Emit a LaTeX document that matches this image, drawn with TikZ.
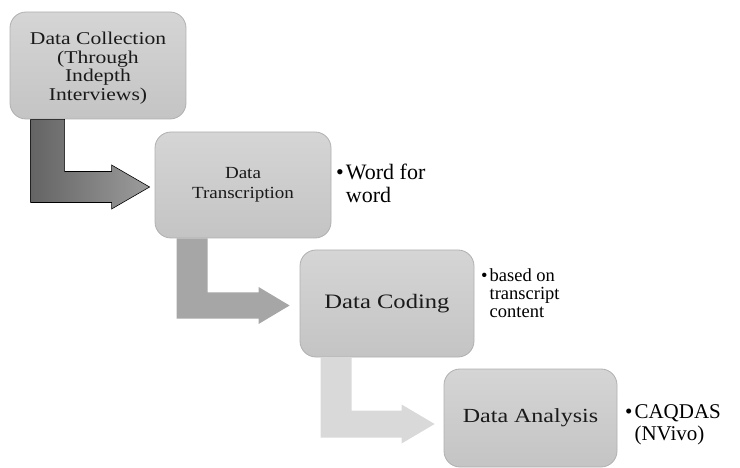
\documentclass[tikz,border=0pt]{standalone}
\usepackage{fontspec}
\setmainfont{Liberation Serif}
\newfontfamily\boxfont{Liberation Serif}[FakeStretch=1.2]
\newfontfamily\boxfontb{Liberation Serif}[FakeStretch=1.12]
\usetikzlibrary{calc}

\definecolor{boxtop}{HTML}{D5D5D5}
\definecolor{boxbot}{HTML}{C4C4C4}
\definecolor{boxline}{HTML}{B0B0B0}
\definecolor{arrowdarkL}{HTML}{646464}
\definecolor{arrowdarkR}{HTML}{9C9C9C}
\definecolor{arrowmid}{HTML}{A6A6A6}
\definecolor{arrowlight}{HTML}{D9D9D9}
\definecolor{boxtext}{HTML}{1A1A1A}

% bent block arrow leaving the bottom of #1 and pointing at the west side of #2
% #3 style, #4 shaft offset, #5 shaft width, #6 bar half thickness,
% #7 head half height, #8 head length, #9 tip shift from #2.west
\newcommand\bentarrow[9]{%
  \path[#3] let \p1=(#1.south west), \p2=($(#2.west)+(#9)$) in
    (\x1+#4pt,\y1) -- (\x1+#4pt+#5pt,\y1) -- (\x1+#4pt+#5pt,\y2+#6pt)
    -- (\x2-#8pt,\y2+#6pt) -- (\x2-#8pt,\y2+#7pt) -- (\x2,\y2)
    -- (\x2-#8pt,\y2-#7pt) -- (\x2-#8pt,\y2-#6pt) -- (\x1+#4pt,\y2-#6pt) -- cycle;}

\begin{document}
\begin{tikzpicture}[x=1pt,y=-1pt,
  stepbox/.style={draw=boxline, line width=0.8pt, rounded corners=16pt,
    top color=boxtop, bottom color=boxbot, inner sep=0pt, align=center,
    text=boxtext, font=\boxfont\fontsize{20.5}{20}\selectfont},
  note/.style={anchor=base west, inner sep=0pt, text=black}]
\useasboundingbox (0,0) rectangle (740,468);

% process steps
\node[stepbox, minimum width=176pt, minimum height=107pt,
      font=\boxfont\fontsize{18}{18.7}\selectfont] (collect) at (98,65.5)
  {\rule{0pt}{18pt}Data Collection\\(Through\\Indepth\\Interviews)};
\node[stepbox, minimum width=176pt, minimum height=106pt,
      font=\boxfontb\fontsize{17}{20}\selectfont] (transcribe) at (243,185)
  {Data\\Transcription};
\node[stepbox, minimum width=174pt, minimum height=107pt] (coding) at (387,303.5)
  {Data Coding};
\node[stepbox, minimum width=173pt, minimum height=98pt,
      font=\boxfont\fontsize{20}{20}\selectfont] (analysis) at (530.5,418)
  {Data Analysis};

% bent arrows between the steps
\bentarrow{collect}{transcribe}{left color=arrowdarkL, right color=arrowdarkR,
  draw=black, line width=0.6pt}{21}{34}{15.5}{22}{38}{-5,2}
\bentarrow{transcribe}{coding}{fill=arrowmid}{22}{31}{13}{18.5}{31}{-10,2}
\bentarrow{coding}{analysis}{fill=arrowlight}{21}{31}{13.5}{19.5}{33}{-9,6}

% side notes
\node[note, font=\fontsize{22}{23}\selectfont] (n1) at (336,180)
  {\begin{tabular}[t]{@{}l@{\hspace{2pt}}l@{}}\textbullet & Word for\\ & word\end{tabular}};
\node[note, font=\fontsize{18.5}{18}\selectfont] (n2) at (481,281)
  {\begin{tabular}[t]{@{}l@{\hspace{2pt}}l@{}}\textbullet & based on\\ & transcript\\ & content\end{tabular}};
\node[note, font=\fontsize{21}{22}\selectfont] (n3) at (625,418)
  {\begin{tabular}[t]{@{}l@{\hspace{2pt}}l@{}}\textbullet & CAQDAS\\ & (NVivo)\end{tabular}};
\end{tikzpicture}
\end{document}
